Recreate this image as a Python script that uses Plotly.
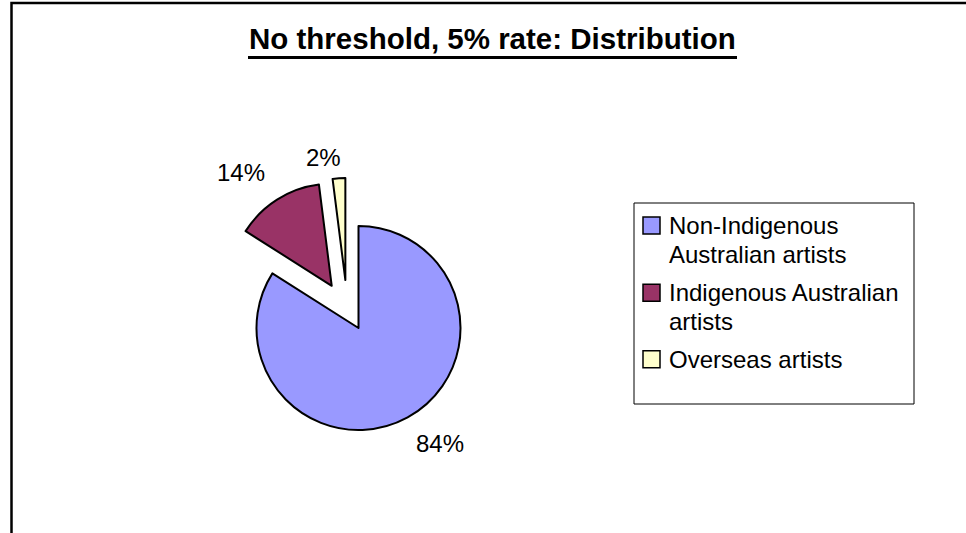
import plotly.graph_objects as go

# --- data -------------------------------------------------------------
categories = [
    "Non-Indigenous<br>Australian artists",
    "Indigenous Australian<br>artists",
    "Overseas artists",
]
shares = [84, 14, 2]
slice_colors = ["#9999FF", "#993366", "#FFFFCC"]
slice_pull = [0, 0.49, 0.49]

title_text = "No threshold, 5% rate: Distribution"

# --- canvas geometry (pixels) -----------------------------------------
W, H = 966, 533
FONT = "Liberation Sans, Arial, sans-serif"
CLEAR = "rgba(0,0,0,0)"


def px(x):
    return x / W


def py(y):
    return 1 - y / H


# pie centre and radius
cx, cy, r = 358.5, 328, 102
half = r * (1 + max(slice_pull))


def pie_domain(ox=0.0, oy=0.0):
    return dict(
        x=[px(cx + ox - half), px(cx + ox + half)],
        y=[py(cy + oy + half), py(cy + oy - half)],
    )


fig = go.Figure()

# main pie: the two larger slices (the overseas sliver is drawn separately)
fig.add_trace(
    go.Pie(
        labels=categories,
        values=shares,
        sort=False,
        direction="clockwise",
        rotation=0,
        pull=slice_pull,
        marker=dict(colors=[slice_colors[0], slice_colors[1], CLEAR],
                    line=dict(color="black", width=[2, 2, 0])),
        textinfo="none",
        hoverinfo="label+percent",
        showlegend=False,
        domain=pie_domain(),
    )
)

# exploded overseas sliver, nudged a little to the left of its radial pull
fig.add_trace(
    go.Pie(
        labels=categories,
        values=shares,
        sort=False,
        direction="clockwise",
        rotation=0,
        pull=slice_pull,
        marker=dict(colors=[CLEAR, CLEAR, slice_colors[2]],
                    line=dict(color="black", width=[0, 0, 2])),
        textinfo="none",
        hoverinfo="skip",
        showlegend=False,
        domain=pie_domain(-10, 2),
    )
)

# percentage labels beside each slice
total = sum(shares)
label_pos = [(440, 443), (241, 172), (323, 157)]
for v, (lx, ly) in zip(shares, label_pos):
    fig.add_annotation(
        x=px(lx), y=py(ly), xref="paper", yref="paper",
        text=f"{v / total * 100:.0f}%", showarrow=False,
        xanchor="center", yanchor="middle",
        font=dict(family=FONT, size=24, color="black"),
    )

# title
fig.add_annotation(
    x=px(492.5), y=py(39), xref="paper", yref="paper",
    text=f"<b>{title_text}</b>", showarrow=False,
    xanchor="center", yanchor="middle",
    font=dict(family=FONT, size=29.5, color="black"),
)

shapes = [
    # title underline
    dict(type="line", xref="paper", yref="paper",
         x0=px(248), x1=px(737), y0=py(57.5), y1=py(57.5),
         line=dict(color="black", width=3)),
    # chart frame
    dict(type="rect", xref="paper", yref="paper",
         x0=px(11.5), x1=px(W + 20), y0=py(3), y1=py(H + 20),
         line=dict(color="black", width=2.5)),
    # legend frame
    dict(type="rect", xref="paper", yref="paper",
         x0=px(634), x1=px(914), y0=py(203), y1=py(404),
         line=dict(color="black", width=1)),
]

# legend: swatch + (possibly two-line) caption per category
legend_rows = [225.5, 292.8, 359.2]
line_step = 28.7
sw = 17
for name, color, row in zip(categories, slice_colors, legend_rows):
    shapes.append(dict(
        type="rect", xref="paper", yref="paper",
        x0=px(643), x1=px(643 + sw),
        y0=py(row + sw / 2), y1=py(row - sw / 2),
        fillcolor=color, line=dict(color="black", width=1.5),
    ))
    for k, part in enumerate(name.split("<br>")):
        fig.add_annotation(
            x=px(667), y=py(row + k * line_step), xref="paper", yref="paper",
            text=part, showarrow=False,
            xanchor="left", yanchor="middle",
            font=dict(family=FONT, size=24, color="black"),
        )

fig.update_layout(
    width=W, height=H,
    margin=dict(l=0, r=0, t=0, b=0),
    paper_bgcolor="white", plot_bgcolor="white",
    shapes=shapes,
    showlegend=False,
)

fig.write_html("out.html")
